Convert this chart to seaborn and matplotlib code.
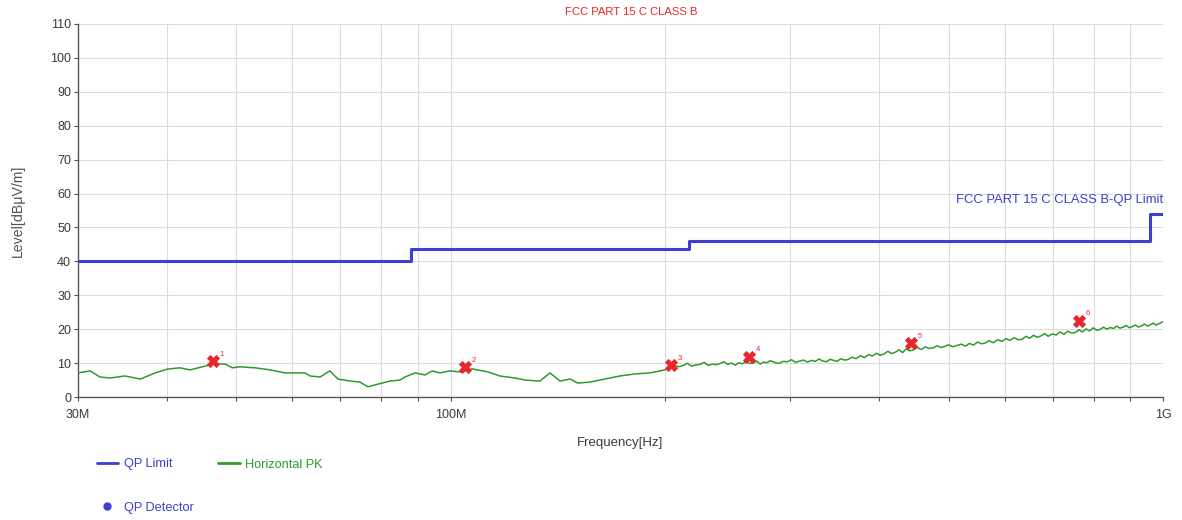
import matplotlib
matplotlib.use("Agg")
import matplotlib.pyplot as plt
from matplotlib.lines import Line2D
from matplotlib.ticker import FixedLocator, NullFormatter
import seaborn as sns
import pandas as pd

# QP limit (FCC Part 15 C class B), frequency in MHz, level in dBuV/m
limit_freq = [30, 88, 216, 960, 1000]
limit_level = [40, 43.5, 46, 54, 54]

# Horizontal peak sweep, frequency in MHz
pk_freq = [
    30.0, 31.2, 32.2, 33.3, 34.9, 36.7, 38.5, 40.0, 41.7, 43.1, 45.2, 46.4, 48.3, 49.4,
    50.6, 53.2, 55.8, 58.6, 62.5, 63.5, 65.6, 67.7, 69.5, 72.3, 74.6, 76.6, 79.1, 82.2,
    84.9, 86.3, 89.2, 92.1, 94.2, 96.7, 99.8, 103.1, 107.2, 112.9, 117.3, 123.2, 127.2,
    133.5, 137.9, 142.5, 147.2, 150.9, 156.9, 164.7, 172.9, 181.5, 190.5, 200.0,
    203, 206, 209, 212, 215, 218, 221, 224, 227, 230, 233, 236, 239, 242, 245, 248, 251,
    254, 257, 260, 263, 266, 269, 272, 275, 278, 281, 285, 289, 293, 297, 301, 305, 309,
    313, 317, 321, 325, 329, 333, 337, 341, 345, 349, 353, 357, 361, 366, 371, 376, 381,
    386, 391, 396, 401, 406, 411, 416, 421, 426, 431, 436, 441, 446, 452, 458, 464, 470,
    476, 482, 488, 494, 500, 507, 514, 521, 528, 535, 542, 549, 556, 563, 570, 578, 586,
    594, 602, 610, 618, 626, 634, 642, 650, 658, 666, 674, 682, 690, 699, 708, 717, 726,
    735, 744, 753, 762, 771, 780, 789, 798, 807, 816, 825, 834, 843, 852, 861, 870, 879,
    888, 897, 906, 915, 924, 933, 942, 951, 960, 969, 978, 987, 1000,
]
pk_level = [
    7.1, 7.7, 5.9, 5.6, 6.2, 5.3, 7.1, 8.2, 8.6, 8.0, 9.1, 9.7, 9.7, 8.6,
    8.9, 8.6, 8.0, 7.1, 7.1, 6.2, 5.9, 7.7, 5.3, 4.7, 4.4, 3.0, 3.8, 4.7,
    5.0, 5.9, 7.1, 6.5, 7.7, 7.1, 7.7, 7.4, 8.3, 7.4, 6.2, 5.6, 5.0,
    4.7, 7.1, 4.7, 5.3, 4.1, 4.4, 5.3, 6.2, 6.8, 7.1, 8.0,
    8.7, 9.4, 8.9, 9.3, 9.9, 9.1, 9.5, 9.6, 10.2, 9.3, 9.7, 9.5, 9.9, 10.4, 9.6, 10.0, 9.4,
    10.1, 9.8, 10.5, 9.9, 10.0, 10.6, 9.7, 10.3, 10.1, 10.7, 10.2, 9.9, 10.5, 10.4, 11.0, 10.2, 10.6,
    10.9, 10.3, 10.8, 10.5, 11.2, 10.6, 10.4, 11.1, 10.8, 10.5, 11.3, 10.9, 11.0, 11.7, 11.3, 12.2, 11.6,
    12.5, 12.1, 12.9, 12.3, 12.7, 13.5, 12.8, 13.2, 13.9, 13.1, 14.2, 13.6, 13.9, 14.6, 14.0, 14.8, 14.3,
    14.5, 15.1, 14.6, 14.9, 15.4, 14.8, 15.2, 15.6, 15.0, 15.8, 15.3, 16.2, 15.7, 15.9, 16.6, 16.0, 16.9,
    16.4, 17.2, 16.7, 17.5, 16.9, 17.0, 17.9, 17.3, 18.2, 17.6, 18.0, 18.7, 17.9, 18.6, 18.3, 19.2, 18.5,
    19.4, 18.9, 19.0, 19.8, 19.2, 20.1, 19.5, 20.4, 19.7, 19.9, 20.6, 20.0, 20.5, 20.2, 20.9, 20.3, 20.6,
    21.1, 20.4, 20.8, 21.2, 20.6, 21.0, 21.5, 20.9, 21.3, 21.8, 21.2, 21.6, 22.2,
]

# QP detector readings
qp_freq = [46.4, 104.8, 204.0, 262.0, 443.0, 762.0]
qp_level = [10.6, 8.8, 9.4, 11.8, 15.9, 22.4]
qp_labels = ["1", "2", "3", "4", "5", "6"]

x_major = [30, 100, 1000]
x_major_labels = ["30M", "100M", "1G"]
x_minor = [40, 50, 60, 70, 80, 90, 200, 300, 400, 500, 600, 700, 800, 900]

BLUE = "#3f3fcf"
GREEN = "#2f9a2f"
RED = "#e8262b"
TXT = "#3a3a3a"

sns.set_theme(style="white")
plt.rcParams["font.family"] = ["Liberation Sans", "DejaVu Sans"]

fig = plt.figure(figsize=(11.82, 5.20), dpi=100)
ax = fig.add_axes([78 / 1182, 1 - 397 / 520, (1163 - 78) / 1182, (397 - 24) / 520])

limit_df = pd.DataFrame({"freq": limit_freq, "level": limit_level})
pk_df = pd.DataFrame({"freq": pk_freq, "level": pk_level})
qp_df = pd.DataFrame({"freq": qp_freq, "level": qp_level})

ax.set_xscale("log")
sns.lineplot(data=pk_df, x="freq", y="level", ax=ax, color=GREEN, lw=1.1,
             estimator=None, sort=False, zorder=3)
sns.lineplot(data=limit_df, x="freq", y="level", ax=ax, color=BLUE, lw=2.2,
             drawstyle="steps-post", estimator=None, sort=False, zorder=4)
sns.scatterplot(data=qp_df, x="freq", y="level", ax=ax, color=RED, marker="X",
                s=75, edgecolor=RED, linewidth=0.6, zorder=5)
for f, lv, t in zip(qp_freq, qp_level, qp_labels):
    ax.annotate(t, (f, lv), xytext=(5, 4), textcoords="offset points",
                color=RED, fontsize=5.5, zorder=6)

ax.text(1000, 56.3, "FCC PART 15 C CLASS B-QP Limit", color=BLUE, fontsize=9.4,
        ha="right", va="bottom")

ax.set_xlim(30, 1000)
ax.set_ylim(0, 110)
ax.xaxis.set_major_locator(FixedLocator(x_major))
ax.xaxis.set_minor_locator(FixedLocator(x_minor))
ax.set_xticklabels(x_major_labels)
ax.xaxis.set_minor_formatter(NullFormatter())
ax.set_yticks(range(0, 111, 10))

ax.grid(True, which="both", color="#dcdcdc", lw=0.8)
for s in ["top", "right"]:
    ax.spines[s].set_visible(False)
for s in ["left", "bottom"]:
    ax.spines[s].set_color("#555555")
    ax.spines[s].set_linewidth(1.0)
ax.tick_params(axis="both", which="both", direction="out", length=3, width=0.8,
               color="#555555", labelsize=9.0, labelcolor=TXT, pad=2,
               bottom=True, left=True)
ax.tick_params(axis="x", which="major", pad=6)

ax.set_xlabel("Frequency[Hz]", fontsize=9.5, color=TXT, labelpad=11)
ax.set_ylabel("Level[dBμV/m]", fontsize=10.2, color="#555555", labelpad=18)

fig.text(631 / 1182, 1 - 12 / 520, "FCC PART 15 C CLASS B", color=RED, fontsize=8.1,
         ha="center", va="center")

handles = [
    Line2D([], [], color=BLUE, lw=2),
    Line2D([], [], color=BLUE, marker="o", ls="none", markersize=5),
    Line2D([], [], color=GREEN, lw=2),
]
labels = ["QP Limit", "QP Detector", "Horizontal PK"]
fig.legend(handles, labels, loc="upper left", bbox_to_anchor=(85 / 1182, 1 - 447 / 520),
           ncol=2, frameon=False, fontsize=9.2, handlelength=1.7, handletextpad=0.45,
           columnspacing=1.9, labelspacing=2.45,
           labelcolor=[BLUE, BLUE, GREEN])

sns.despine(ax=ax)
fig.savefig("out.png", dpi=100)
